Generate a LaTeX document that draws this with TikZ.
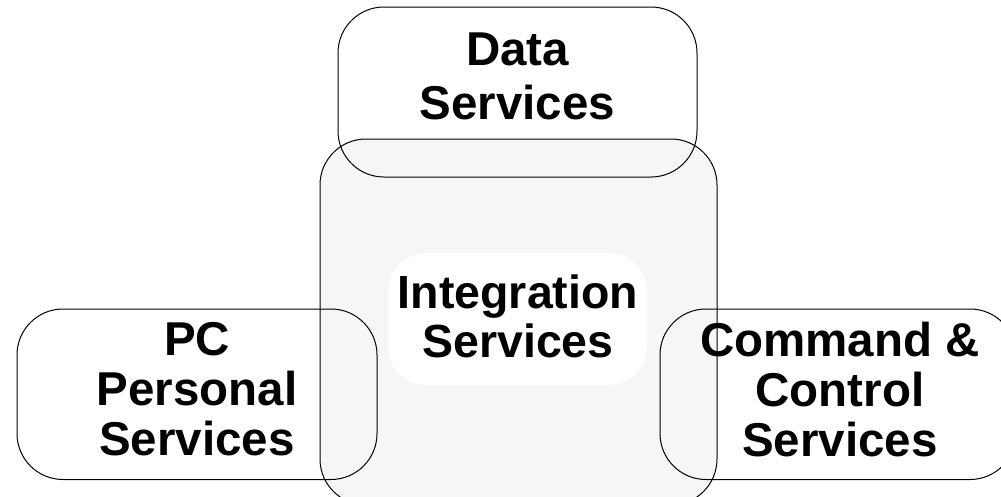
\documentclass[tikz,border=0pt]{standalone}
\usepackage{fontspec}
\setmainfont{Liberation Sans}
\begin{document}
\begin{tikzpicture}[x=1pt,y=-1pt,
  box/.style={draw=black, line width=1pt, rounded corners=46pt,
    inner sep=0pt, outer sep=0pt, minimum width=#1},
  lbl/.style={anchor=north, inner sep=0pt, outer sep=0pt, align=center},
  bigtxt/.style 2 args={font=\bfseries\fontsize{#1}{#2}\selectfont}
]
\useasboundingbox (0,0) rectangle (1001,496);
\clip (0,0) rectangle (1001,496);

% central integration area
\node[box=397pt, minimum height=366pt, fill=black!3.5] (integ) at (518.5,322) {};
\node[rounded corners=38pt, fill=white, minimum width=259pt, minimum height=132pt,
      inner sep=0pt] (intpad) at (517.5,319) {};

% surrounding service areas
\node[box=359pt, minimum height=170pt] (data) at (517.5,92) {};
\node[box=360pt, minimum height=170.5pt] (pc) at (197,394.25) {};
\node[box=356pt, minimum height=170.5pt] (cmd) at (838,394.25) {};

% labels
\node[lbl, bigtxt={47.5}{54}] (datatxt) at (517.5,33) {Data\\Services};
\node[lbl, bigtxt={46.5}{49}] (integtxt) at (518,275) {Integration\\Services};
\node[lbl, bigtxt={47.5}{50}] (pctxt) at (197,322) {PC\\Personal\\Services};
\node[lbl, bigtxt={47.5}{50}] (cmdtxt) at (840,322) {Command \&\\Control\\Services};
\end{tikzpicture}
\end{document}
